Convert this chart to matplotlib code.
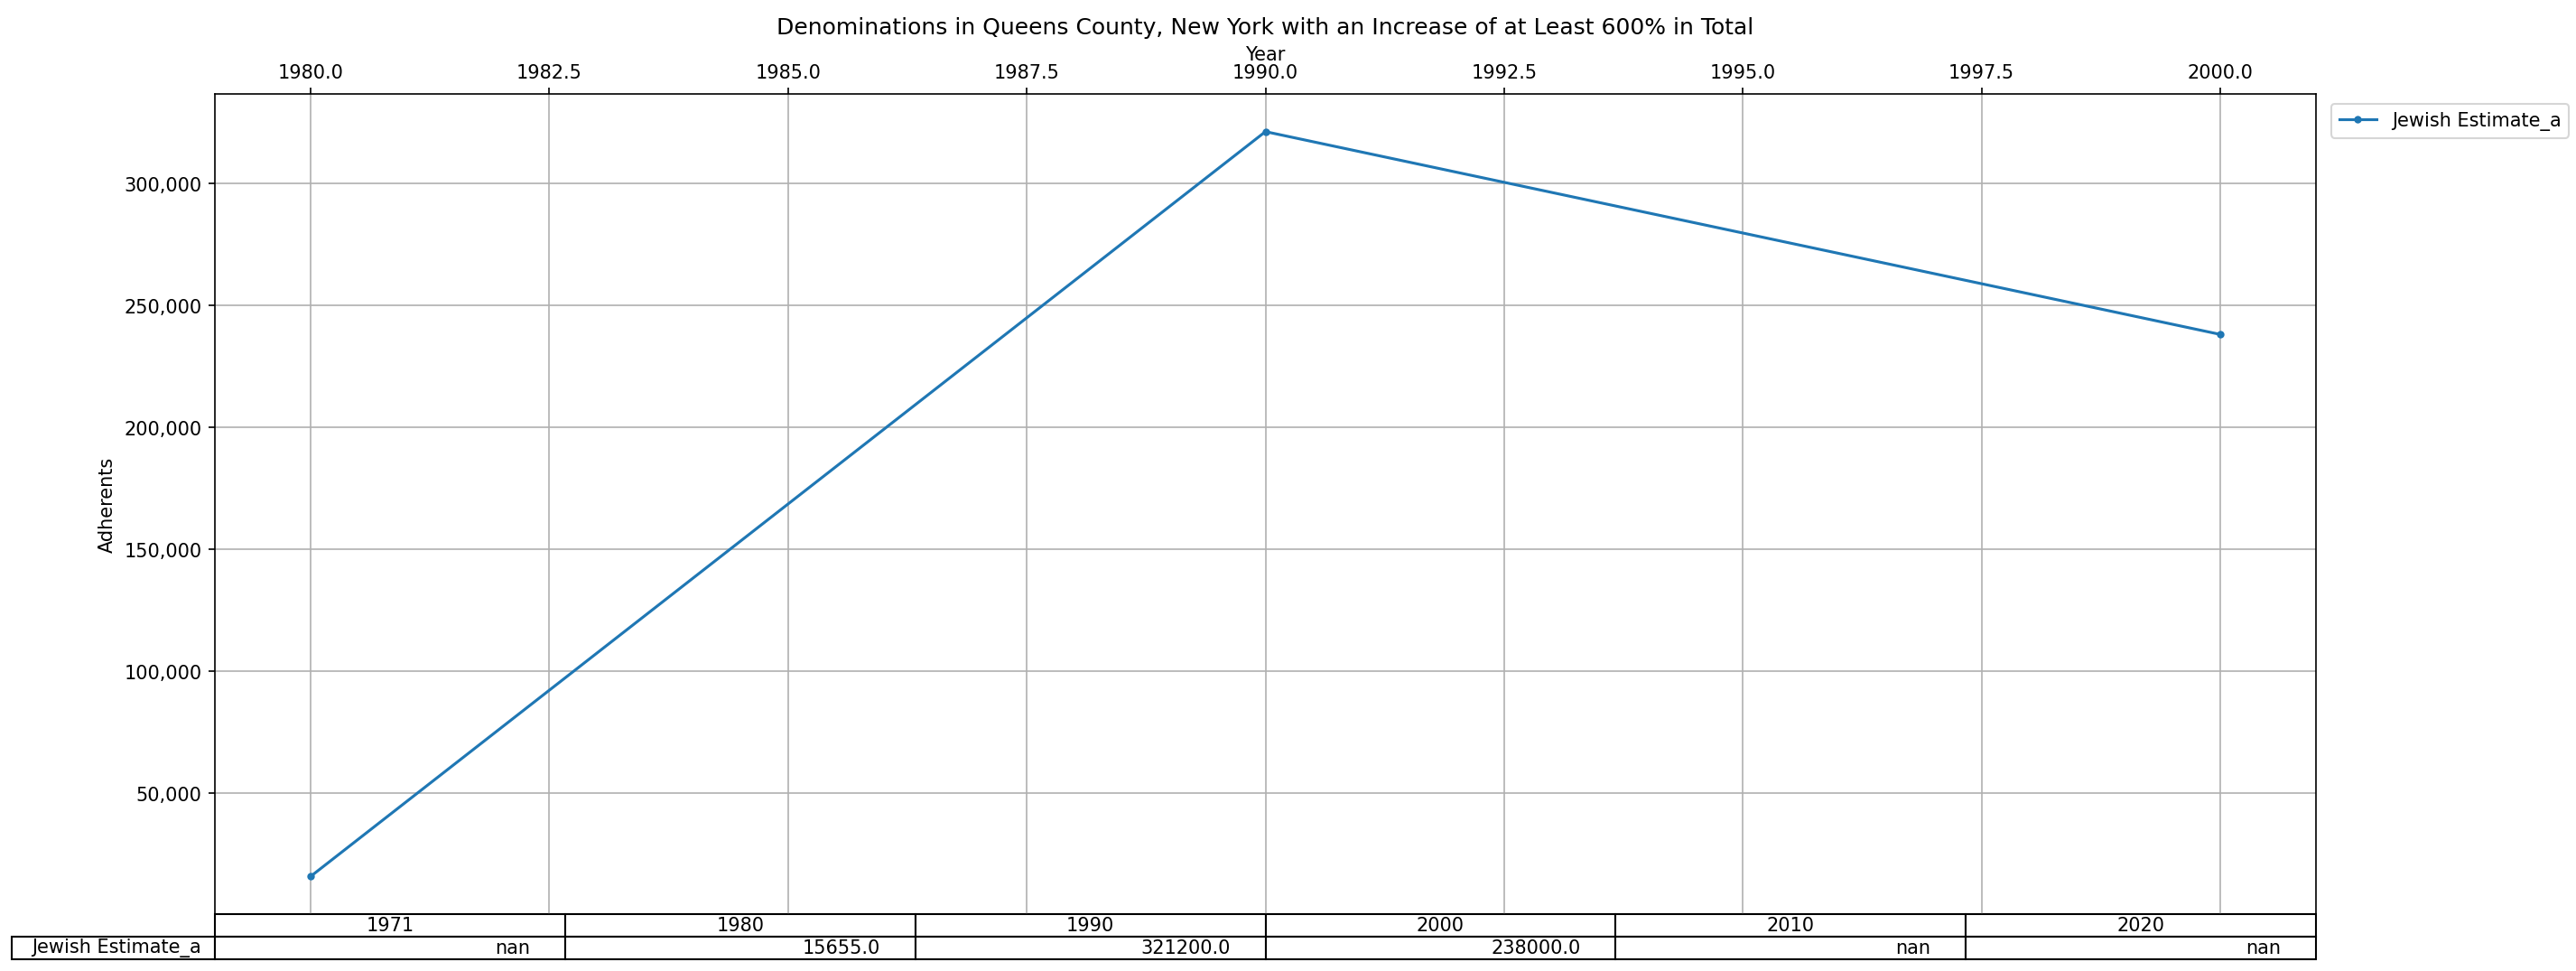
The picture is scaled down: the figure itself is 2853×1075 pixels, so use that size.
import matplotlib
matplotlib.use("Agg")
import matplotlib.pyplot as plt
import matplotlib.ticker as mtick

# data
years = [1980, 1990, 2000]
jewish = [15655.0, 321200.0, 238000.0]
table_cols = ["1971", "1980", "1990", "2000", "2010", "2020"]
table_vals = ["nan", "15655.0", "321200.0", "238000.0", "nan", "nan"]
series_name = "Jewish Estimate_a"

fig = plt.figure(figsize=(19.02, 7.173), dpi=150)
ax = fig.add_axes([0.0835, 0.059, 0.8155, 0.843])

ax.plot(years, jewish, marker="o", markersize=3, color="#1f77b4", label=series_name)
ax.xaxis.tick_top()
ax.xaxis.set_label_position("top")
ax.set_xlabel("Year", labelpad=2)
ax.set_ylabel("Adherents")
ax.yaxis.set_major_formatter(mtick.StrMethodFormatter("{x:,.0f}"))
ax.grid(True)
ax.legend(loc="upper left", bbox_to_anchor=(1.003, 1.0))
ax.set_title("Denominations in Queens County, New York with an Increase of at Least 600% in Total", pad=6)

tbl = ax.table(cellText=[table_vals], rowLabels=[series_name], colLabels=table_cols, loc="bottom")
tbl.auto_set_font_size(False)
tbl.set_fontsize(10)

fig.savefig("out.png", dpi=150)
